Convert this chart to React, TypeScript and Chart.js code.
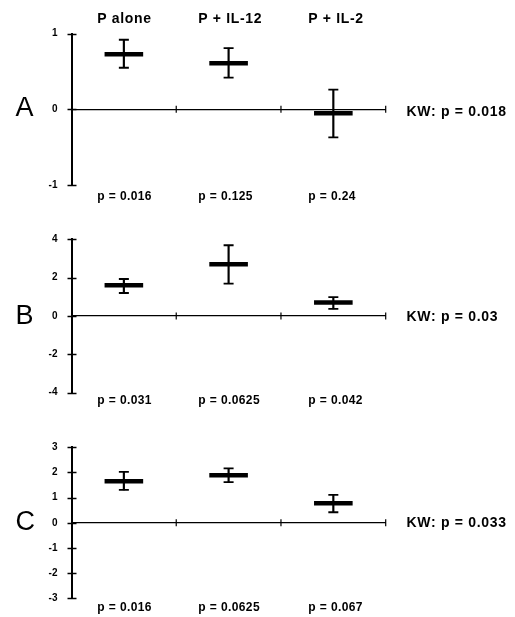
import React, { useEffect, useRef } from "react";
import { Chart, registerables } from "chart.js";

Chart.register(...registerables);

// ---- data ----
const categories = ["P alone", "P + IL-12", "P + IL-2"];

const aMean = [0.73, 0.61, -0.05];
const aHigh = [0.92, 0.81, 0.26];
const aLow = [0.55, 0.42, -0.37];
const aPValues = ["p = 0.016", "p = 0.125", "p = 0.24"];
const aKW = "KW: p = 0.018";

const bMean = [1.6, 2.7, 0.71];
const bHigh = [1.93, 3.69, 0.98];
const bLow = [1.2, 1.69, 0.37];
const bPValues = ["p = 0.031", "p = 0.0625", "p = 0.042"];
const bKW = "KW: p = 0.03";

const cMean = [1.65, 1.89, 0.78];
const cHigh = [2.02, 2.16, 1.11];
const cLow = [1.31, 1.62, 0.42];
const cPValues = ["p = 0.016", "p = 0.0625", "p = 0.067"];
const cKW = "KW: p = 0.033";

const panelLetters = ["A", "B", "C"];
const yRanges = [
  { min: -1, max: 1, step: 1 },
  { min: -4, max: 4, step: 2 },
  { min: -3, max: 3, step: 1 },
];

// ---- layout (page pixels) ----
const FONT = '"Liberation Sans", Arial, Helvetica, sans-serif';
const W = 515;
const AXIS_LEFT = 71.5;
const AXIS_RIGHT = 385.7;
const Y_SCALE_W = 40;
const layouts = [
  { top: 0, height: 200, plotTop: 33.7, plotBottom: 185, letterY: 107, kwY: 111.3, pY: 196.1 },
  { top: 205, height: 200, plotTop: 239.3, plotBottom: 392.7, letterY: 314.7, kwY: 315.6, pY: 399.6 },
  { top: 410, height: 200, plotTop: 447.3, plotBottom: 598.3, letterY: 520.8, kwY: 521.7, pY: 607 },
];
const textLeft = [97.3, 198.3, 308.3];

const axisTicksPlugin = {
  id: "axisTicks",
  afterDraw(chart: any) {
    const { ctx, chartArea, scales } = chart;
    const x = scales.x;
    const y = scales.y;
    ctx.save();
    ctx.strokeStyle = "#000";
    ctx.lineWidth = 1.5;
    y.ticks.forEach((_t: any, i: number) => {
      const py = Math.round(y.getPixelForTick(i)) + 0.5;
      ctx.beginPath();
      ctx.moveTo(chartArea.left - 4, py);
      ctx.lineTo(chartArea.left + 5, py);
      ctx.stroke();
    });
    ctx.lineWidth = 1.2;
    const y0 = y.getPixelForValue(0);
    for (let i = 1; i <= categories.length; i++) {
      const px = x.getPixelForValue(i - 0.5);
      ctx.beginPath();
      ctx.moveTo(px, y0 - 3.5);
      ctx.lineTo(px, y0 + 3.5);
      ctx.stroke();
    }
    ctx.restore();
  },
};

function Panel(props: any) {
  const ref = useRef<HTMLCanvasElement>(null);
  const { mean, high, low, range, layout } = props;
  useEffect(() => {
    if (!ref.current) return;
    const pointDs = (data: number[], radius: number, width: number, order: number) => ({
      type: "line",
      data,
      showLine: false,
      pointStyle: "line",
      pointRadius: radius,
      pointBorderWidth: width,
      pointBorderColor: "#000",
      borderColor: "#000",
      order,
    });
    const chart = new Chart(ref.current, {
      type: "bar",
      data: {
        labels: categories,
        datasets: [
          {
            type: "bar",
            data: low.map((l: number, i: number) => [l, high[i]]),
            backgroundColor: "#000",
            barThickness: 1.5,
            order: 3,
          } as any,
          pointDs(high, 5, 1.8, 2),
          pointDs(low, 5, 1.8, 2),
          pointDs(mean, 19.3, 4.5, 1),
        ],
      },
      options: {
        responsive: false,
        animation: false,
        events: [],
        layout: {
          autoPadding: false,
          padding: {
            left: AXIS_LEFT - Y_SCALE_W,
            right: W - AXIS_RIGHT,
            top: layout.plotTop - layout.top,
            bottom: layout.top + layout.height - layout.plotBottom,
          },
        },
        plugins: { legend: { display: false }, tooltip: { enabled: false }, title: { display: false } },
        scales: {
          x: {
            type: "category",
            offset: true,
            position: { y: 0 } as any,
            grid: { display: true, drawOnChartArea: false, drawTicks: false },
            ticks: { display: false },
            border: { display: true, color: "#000", width: 1.2 },
          },
          y: {
            type: "linear",
            min: range.min,
            max: range.max,
            afterFit: (s: any) => {
              s.width = Y_SCALE_W;
            },
            ticks: {
              stepSize: range.step,
              color: "#000",
              padding: 0,
              font: { family: FONT, size: 10, weight: "bold" },
            },
            grid: {
              display: true,
              drawOnChartArea: false,
              drawTicks: true,
              tickLength: 14,
              color: "rgba(0,0,0,0)",
            },
            border: { display: true, color: "#000", width: 2 },
          },
        },
      },
      plugins: [axisTicksPlugin],
    } as any);
    return () => chart.destroy();
  }, []);
  return (
    <canvas
      ref={ref}
      width={W}
      height={layout.height}
      style={{ position: "absolute", left: 0, top: layout.top, width: W, height: layout.height }}
    />
  );
}

const textStyle = (left: number, cy: number, size: number, bold: boolean, spacing: number): any => ({
  position: "absolute",
  left,
  top: cy,
  transform: "translateY(-50%)",
  fontFamily: FONT,
  fontSize: size,
  fontWeight: bold ? "bold" : "normal",
  lineHeight: 1,
  letterSpacing: spacing,
  whiteSpace: "nowrap",
  color: "#000",
});

export default function App() {
  const panels = [
    { mean: aMean, high: aHigh, low: aLow, p: aPValues, kw: aKW },
    { mean: bMean, high: bHigh, low: bLow, p: bPValues, kw: bKW },
    { mean: cMean, high: cHigh, low: cLow, p: cPValues, kw: cKW },
  ];
  return (
    <div style={{ position: "absolute", left: 0, top: 0, width: W, height: 617, background: "#fff", overflow: "hidden" }}>
      {panels.map((p, k) => (
        <Panel key={k} mean={p.mean} high={p.high} low={p.low} range={yRanges[k]} layout={layouts[k]} />
      ))}
      {categories.map((c, i) => (
        <div key={"h" + i} style={textStyle(textLeft[i], 18, 14, true, 0.7)}>
          {c}
        </div>
      ))}
      {panels.map((p, k) => (
        <React.Fragment key={"t" + k}>
          <div style={textStyle(15.5, layouts[k].letterY, 27, false, 0)}>{panelLetters[k]}</div>
          <div style={textStyle(406.5, layouts[k].kwY, 14, true, 0.7)}>{p.kw}</div>
          {p.p.map((t: string, i: number) => (
            <div key={i} style={textStyle(textLeft[i], layouts[k].pY, 12, true, 0.4)}>
              {t}
            </div>
          ))}
        </React.Fragment>
      ))}
    </div>
  );
}
